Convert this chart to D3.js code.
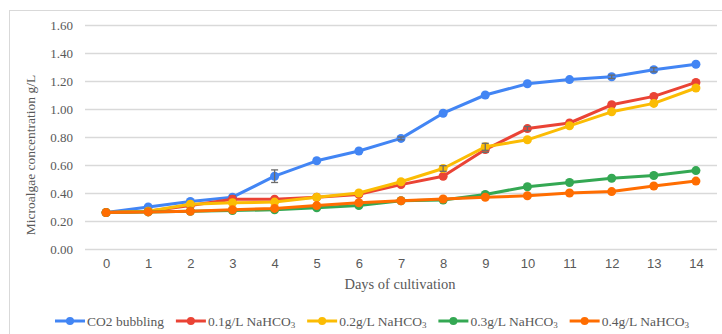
<!DOCTYPE html>
<html>
<head>
<meta charset="utf-8">
<script src="https://cdn.jsdelivr.net/npm/d3@7"></script>
<style>
  body { margin: 0; background: #fff; }
  svg { display: block; }
</style>
</head>
<body>
<svg id="chart" width="722" height="334"></svg>
<script>
/* Data */
const days = [0, 1, 2, 3, 4, 5, 6, 7, 8, 9, 10, 11, 12, 13, 14];
const yTicks = [0, 0.2, 0.4, 0.6, 0.8, 1.0, 1.2, 1.4, 1.6];

const co2 = [0.26, 0.30, 0.34, 0.37, 0.52, 0.63, 0.70, 0.79, 0.97, 1.10, 1.18, 1.21, 1.23, 1.28, 1.32];
const na01 = [0.26, 0.27, 0.31, 0.355, 0.355, 0.37, 0.39, 0.46, 0.52, 0.71, 0.86, 0.90, 1.03, 1.09, 1.19];
const na02 = [0.26, 0.27, 0.32, 0.33, 0.335, 0.37, 0.40, 0.48, 0.575, 0.73, 0.78, 0.88, 0.98, 1.04, 1.15];
const na03 = [0.26, 0.265, 0.27, 0.275, 0.28, 0.295, 0.31, 0.345, 0.35, 0.39, 0.445, 0.475, 0.505, 0.525, 0.56];
const na04 = [0.26, 0.265, 0.27, 0.28, 0.29, 0.31, 0.33, 0.345, 0.357, 0.37, 0.38, 0.40, 0.41, 0.45, 0.485];

// error bars (only where visible)
const co2Err = [0, 0, 0, 0.01, 0.045, 0, 0, 0.01, 0, 0, 0, 0, 0.012, 0.015, 0];
const na01Err = [0, 0, 0, 0, 0, 0, 0, 0, 0, 0.02, 0.015, 0, 0, 0, 0];
const na02Err = [0, 0, 0, 0, 0, 0, 0, 0, 0.02, 0.025, 0, 0, 0, 0, 0];

const seriesNames = ["CO2 bubbling", "0.1g/L NaHCO", "0.2g/L NaHCO", "0.3g/L NaHCO", "0.4g/L NaHCO"];
const seriesValues = [co2, na01, na02, na03, na04];
const seriesErr = [co2Err, na01Err, na02Err, null, null];
const COLORS = ["#4285f4", "#ea4335", "#fbbc04", "#34a853", "#ff6d01"];

/* Chart */
const svg = d3.select("#chart");
const serif = "'Liberation Serif', 'Times New Roman', serif";
const sans = "'Liberation Sans', Arial, sans-serif";

// outer frame
svg.append("rect")
  .attr("x", 9.5).attr("y", 10.5)
  .attr("width", 730).attr("height", 340)
  .attr("fill", "none").attr("stroke", "#d9d9d9");

const x = d3.scalePoint().domain(days).range([85, 717]).padding(0.5);
const y = d3.scaleLinear().domain([0, 1.6]).range([249, 25]);

// gridlines + y labels
const yAxis = svg.append("g")
  .attr("transform", "translate(85,0)")
  .call(d3.axisLeft(y).tickValues(yTicks).tickSize(-632).tickFormat(d3.format(".2f")).tickPadding(12));
yAxis.select(".domain").remove();
yAxis.selectAll(".tick line").attr("stroke", "#d9d9d9").attr("stroke-width", 1.5);
yAxis.selectAll(".tick text")
  .attr("fill", "#595959")
  .style("font-family", serif)
  .style("font-size", "13px");

// x labels
const xAxis = svg.append("g")
  .attr("transform", "translate(0,249)")
  .call(d3.axisBottom(x).tickSize(0).tickPadding(10));
xAxis.select(".domain").remove();
xAxis.selectAll(".tick text")
  .attr("fill", "#595959")
  .style("font-family", sans)
  .style("font-size", "13px");

// axis titles
svg.append("text")
  .attr("x", 400).attr("y", 289)
  .attr("text-anchor", "middle")
  .attr("fill", "#595959")
  .style("font-family", serif)
  .style("font-size", "14.5px")
  .text("Days of cultivation");

svg.append("text")
  .attr("transform", "translate(35,155) rotate(-90)")
  .attr("text-anchor", "middle")
  .attr("fill", "#595959")
  .style("font-family", serif)
  .style("font-size", "13.5px")
  .text("Microalgae concentration g/L");

// lines
const line = d3.line()
  .x((d, i) => x(days[i]))
  .y(d => y(d));

seriesValues.forEach((vals, s) => {
  const g = svg.append("g");
  g.append("path")
    .datum(vals)
    .attr("d", line)
    .attr("fill", "none")
    .attr("stroke", COLORS[s])
    .attr("stroke-width", 3)
    .attr("stroke-linejoin", "round");

  g.selectAll("circle")
    .data(vals)
    .enter().append("circle")
    .attr("cx", (d, i) => x(days[i]))
    .attr("cy", d => y(d))
    .attr("r", 4.5)
    .attr("fill", COLORS[s]);

  const err = seriesErr[s];
  if (err) {
    vals.forEach((d, i) => {
      if (!err[i]) return;
      const cx = x(days[i]);
      const eb = g.append("g").attr("stroke", "#6b6b6b").attr("stroke-width", 1.3);
      eb.append("line").attr("x1", cx).attr("x2", cx).attr("y1", y(d - err[i])).attr("y2", y(d + err[i]));
      eb.append("line").attr("x1", cx - 3.5).attr("x2", cx + 3.5).attr("y1", y(d - err[i])).attr("y2", y(d - err[i]));
      eb.append("line").attr("x1", cx - 3.5).attr("x2", cx + 3.5).attr("y1", y(d + err[i])).attr("y2", y(d + err[i]));
    });
  }
});

// legend
const legend = svg.append("g").attr("transform", "translate(0,321)");
let lx = 55;
seriesNames.forEach((name, s) => {
  const item = legend.append("g").attr("transform", "translate(" + lx + ",0)");
  item.append("line")
    .attr("x1", 0).attr("x2", 30).attr("y1", 0).attr("y2", 0)
    .attr("stroke", COLORS[s]).attr("stroke-width", 3);
  item.append("circle").attr("cx", 15).attr("cy", 0).attr("r", 4).attr("fill", COLORS[s]);
  const t = item.append("text")
    .attr("x", 32).attr("y", 4.5)
    .attr("fill", "#595959")
    .style("font-family", serif)
    .style("font-size", "13.5px")
    .text(name);
  if (s > 0) {
    t.append("tspan").attr("dy", 2).style("font-size", "9px").text("3");
  }
  lx += 32 + t.node().getComputedTextLength() + 12;
});
</script>
</body>
</html>
